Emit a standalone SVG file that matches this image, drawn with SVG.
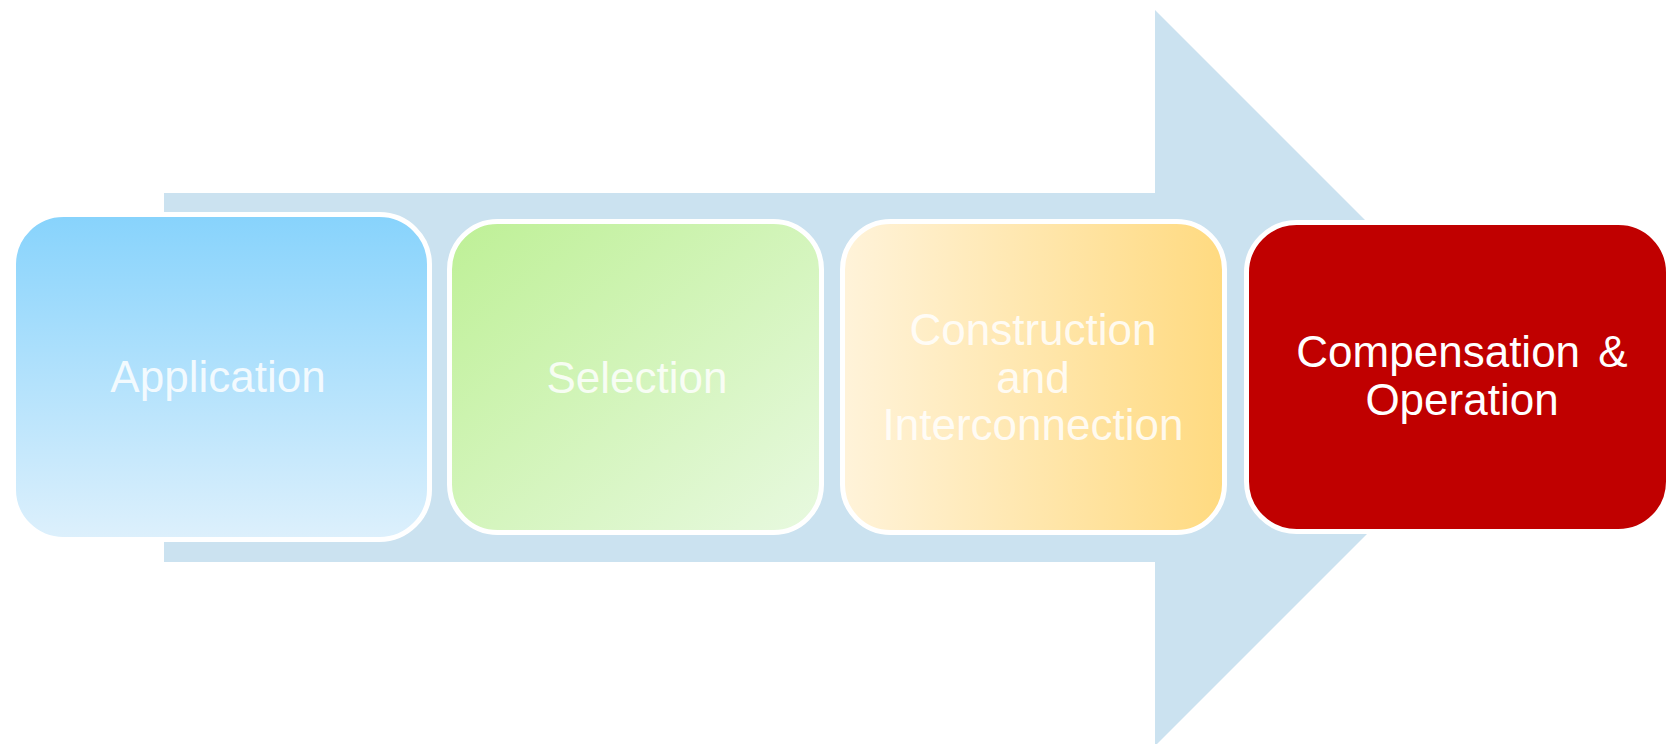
<svg xmlns="http://www.w3.org/2000/svg" width="1669" height="744" viewBox="0 0 1669 744">
<defs>
<linearGradient id="gBlue" x1="0" y1="0" x2="0" y2="1">
<stop offset="0" stop-color="#87D3FC"/>
<stop offset="1" stop-color="#DDF0FC"/>
</linearGradient>
<linearGradient id="gGreen" x1="0" y1="0" x2="1" y2="1">
<stop offset="0" stop-color="#BEF096"/>
<stop offset="1" stop-color="#E8F9E0"/>
</linearGradient>
<linearGradient id="gYellow" x1="0" y1="0" x2="1" y2="0">
<stop offset="0" stop-color="#FFF3DA"/>
<stop offset="1" stop-color="#FFDA80"/>
</linearGradient>
<filter id="glow" x="-5%" y="-5%" width="110%" height="110%">
<feGaussianBlur in="SourceAlpha" stdDeviation="2"/>
<feFlood flood-color="#ffffff"/>
<feComposite operator="in" in2="SourceAlpha"/>
<feMerge><feMergeNode/><feMergeNode in="SourceGraphic"/></feMerge>
</filter>
</defs>
<style>
.box{stroke:#FFFFFF;stroke-width:5}
.lbl{font-family:"Liberation Sans",Arial,sans-serif;font-size:44px;text-anchor:middle}
.light{fill:#FFFFFF;fill-opacity:0.85}
.dark{fill:#FFFFFF}
</style>
<rect width="1669" height="744" fill="#FFFFFF"/>
<g id="connectors">
<path d="M164,193 H1155 V10 L1523,378 L1155,746 V562 H164 Z" fill="#CBE2F0"/>
</g>
<g id="node-application">
<rect class="box" x="13.5" y="214.5" width="416" height="325" rx="50" fill="url(#gBlue)"/>
<text class="lbl light" x="218" y="392">Application</text>
</g>
<g id="node-selection">
<rect class="box" x="449.5" y="221.5" width="372" height="311" rx="48" fill="url(#gGreen)"/>
<text class="lbl light" x="637" y="393">Selection</text>
</g>
<g id="node-construction">
<rect class="box" x="842.5" y="221.5" width="382" height="311" rx="48" fill="url(#gYellow)"/>
<text class="lbl light" x="1033" y="345">Construction</text>
<text class="lbl light" x="1033" y="393">and</text>
<text class="lbl light" x="1033" y="440">Interconnection</text>
</g>
<g id="node-compensation">
<rect class="box" x="1246.5" y="222.5" width="422" height="309" rx="50" fill="#C00000"/>
<text class="lbl dark" x="1462" y="367" word-spacing="6">Compensation &amp;</text>
<text class="lbl dark" x="1462" y="415">Operation</text>
</g>
</svg>
